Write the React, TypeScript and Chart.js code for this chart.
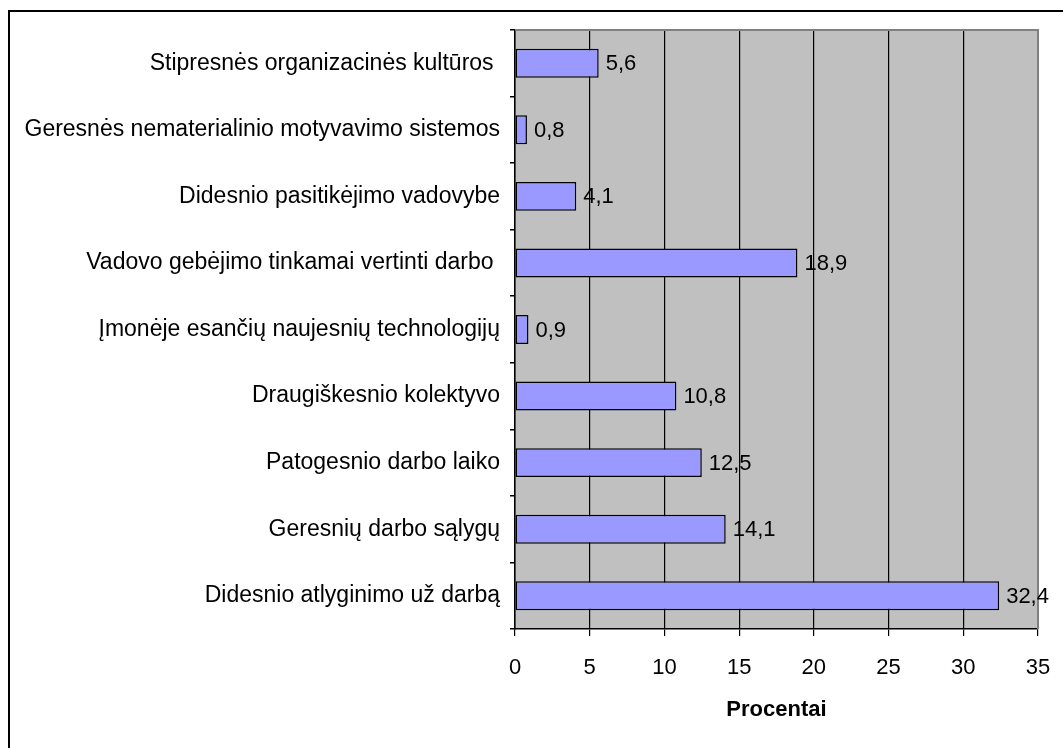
import React, { useEffect, useRef } from "react";
import { Chart, registerables } from "chart.js";

Chart.register(...registerables);

const categories = [
  "Stipresnės organizacinės kultūros ",
  "Geresnės nematerialinio motyvavimo sistemos",
  "Didesnio pasitikėjimo vadovybe",
  "Vadovo gebėjimo tinkamai vertinti darbo ",
  "Įmonėje esančių naujesnių technologijų",
  "Draugiškesnio kolektyvo",
  "Patogesnio darbo laiko",
  "Geresnių darbo sąlygų",
  "Didesnio atlyginimo už darbą",
];
const percentValues = [5.6, 0.8, 4.1, 18.9, 0.9, 10.8, 12.5, 14.1, 32.4];
const axisTitle = "Procentai";
const xMin = 0;
const xMax = 35;
const xStep = 5;

const FONT = "'Liberation Sans', Arial, sans-serif";

const plotBg = {
  id: "plotBg",
  beforeDraw(chart: any) {
    const { ctx, chartArea } = chart;
    ctx.save();
    ctx.fillStyle = "#C0C0C0";
    ctx.fillRect(chartArea.left, chartArea.top, chartArea.right - chartArea.left, chartArea.bottom - chartArea.top);
    ctx.restore();
  },
  beforeDatasetsDraw(chart: any) {
    const { ctx, chartArea } = chart;
    ctx.save();
    ctx.strokeStyle = "#808080";
    ctx.lineWidth = 2;
    ctx.beginPath();
    ctx.moveTo(chartArea.left, chartArea.top);
    ctx.lineTo(chartArea.right, chartArea.top);
    ctx.lineTo(chartArea.right, chartArea.bottom);
    ctx.stroke();
    ctx.restore();
  },
};

const valueLabels = {
  id: "valueLabels",
  afterDatasetsDraw(chart: any) {
    const { ctx } = chart;
    const meta = chart.getDatasetMeta(0);
    const data = chart.data.datasets[0].data as number[];
    ctx.save();
    ctx.fillStyle = "#000";
    ctx.font = `22px ${FONT}`;
    ctx.textAlign = "left";
    ctx.textBaseline = "middle";
    meta.data.forEach((el: any, i: number) => {
      const txt = data[i].toFixed(1).replace(".", ",");
      ctx.fillText(txt, el.x + 7, el.y + 1);
    });
    ctx.restore();
  },
};

export default function App() {
  const ref = useRef<HTMLCanvasElement>(null);
  useEffect(() => {
    if (!ref.current) return;
    const chart = new Chart(ref.current, {
      type: "bar",
      data: {
        labels: categories,
        datasets: [
          {
            data: percentValues,
            backgroundColor: "#9999FF",
            borderColor: "#000000",
            borderWidth: 1.5,
            borderSkipped: false,
            categoryPercentage: 1,
            barPercentage: 0.435,
          },
        ],
      },
      options: {
        indexAxis: "y",
        animation: false,
        responsive: false,
        devicePixelRatio: 1,
        layout: { padding: { top: 30, right: 25, left: 0, bottom: 0 } },
        plugins: {
          legend: { display: false },
          tooltip: { enabled: false },
          title: { display: false },
        },
        scales: {
          x: {
            type: "linear",
            min: xMin,
            max: xMax,
            afterFit(scale: any) {
              scale.height = 119;
              scale.paddingLeft = 0;
              scale.paddingRight = 0;
            },
            ticks: {
              stepSize: xStep,
              color: "#000",
              font: { family: FONT, size: 22 },
              padding: 19,
              maxRotation: 0,
            },
            grid: {
              color: "#000",
              lineWidth: 1.2,
              tickLength: 7,
              drawOnChartArea: true,
            },
            border: { display: true, color: "#000", width: 1.5 },
            title: {
              display: true,
              text: axisTitle,
              color: "#000",
              font: { family: FONT, size: 22, weight: "bold" },
              padding: { top: 0, bottom: 25 },
            },
          },
          y: {
            type: "category",
            afterFit(scale: any) {
              scale.width = 515;
            },
            ticks: {
              color: "#000",
              font: { family: FONT, size: 23 },
              padding: 10,
              autoSkip: false,
            },
            grid: {
              offset: true,
              drawOnChartArea: false,
              color: "#000",
              lineWidth: 1.5,
              tickLength: 5,
            },
            border: { display: true, color: "#000", width: 1.5 },
          },
        },
      },
      plugins: [plotBg, valueLabels],
    } as any);
    return () => chart.destroy();
  }, []);

  return (
    <div style={{ position: "fixed", left: 0, top: 0, width: 1063, height: 748, overflow: "hidden", background: "#fff" }}>
      <div
        style={{
          position: "absolute",
          left: 8,
          top: 10,
          width: 1200,
          height: 900,
          borderTop: "2px solid #000",
          borderLeft: "2px solid #000",
        }}
      />
      <canvas ref={ref} width={1063} height={748} style={{ position: "absolute", left: 0, top: 0 }} />
    </div>
  );
}
